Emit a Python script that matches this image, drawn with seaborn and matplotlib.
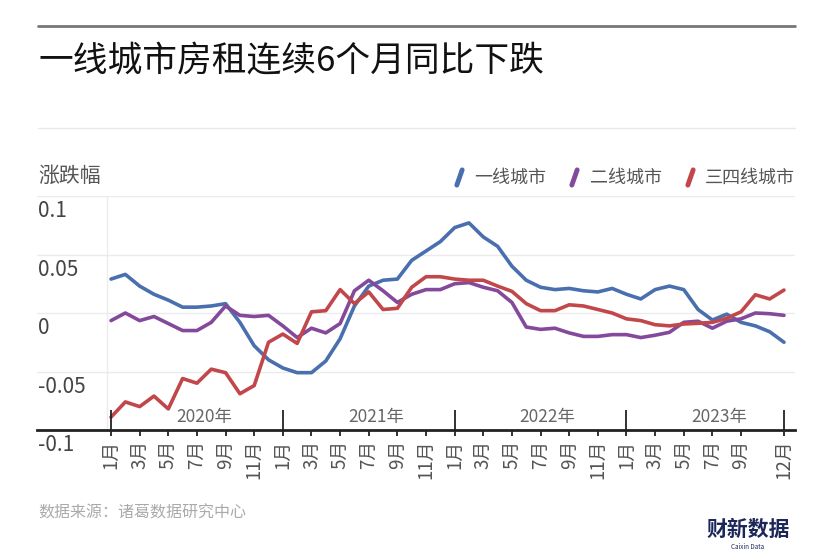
import numpy as np
import pandas as pd
import matplotlib.pyplot as plt
import matplotlib.transforms as mtransforms
import seaborn as sns
from matplotlib.lines import Line2D
from matplotlib.markers import MarkerStyle
from matplotlib.path import Path

# 数据: 2020年1月 - 2023年12月, 同比涨跌幅
years = ['2020年', '2021年', '2022年', '2023年']
series_names = ['一线城市', '二线城市', '三四线城市']
colors = ['#4a6faf', '#84499b', '#c1474a']

tier1 = [0.029, 0.033, 0.023, 0.016, 0.011, 0.005, 0.005, 0.006, 0.008, -0.008, -0.028, -0.040,
         -0.047, -0.051, -0.051, -0.041, -0.022, 0.006, 0.023, 0.028, 0.029, 0.045, 0.053, 0.061,
         0.073, 0.077, 0.065, 0.057, 0.040, 0.028, 0.022, 0.020, 0.021, 0.019, 0.018, 0.021,
         0.016, 0.012, 0.020, 0.023, 0.020, 0.003, -0.006, -0.001, -0.008, -0.011, -0.016, -0.025]
tier2 = [-0.0065, 0.0, -0.0065, -0.003, -0.009, -0.015, -0.015, -0.008, 0.006, -0.002, -0.003, -0.002,
         -0.011, -0.021, -0.013, -0.017, -0.009, 0.019, 0.028, 0.019, 0.009, 0.016, 0.020, 0.020,
         0.025, 0.026, 0.022, 0.019, 0.009, -0.012, -0.014, -0.013, -0.017, -0.020, -0.020, -0.0185,
         -0.0185, -0.021, -0.019, -0.0165, -0.008, -0.007, -0.013, -0.007, -0.005, 0.0, -0.0006, -0.002]
tier34 = [-0.089, -0.076, -0.080, -0.071, -0.082, -0.056, -0.060, -0.048, -0.051, -0.069, -0.062, -0.025,
          -0.018, -0.026, 0.001, 0.002, 0.020, 0.008, 0.018, 0.003, 0.004, 0.022, 0.031, 0.031,
          0.029, 0.028, 0.028, 0.023, 0.0185, 0.008, 0.002, 0.002, 0.007, 0.006, 0.003, 0.0,
          -0.005, -0.0065, -0.010, -0.011, -0.0094, -0.0088, -0.008, -0.0045, 0.001, 0.0156, 0.012, 0.0196]

month_labels = [f'{m}月' for m in range(1, 13)] * 4
tick_idx = list(range(0, 46, 2)) + [47]
y_ticks = [0.1, 0.05, 0, -0.05, -0.1]
y_tick_labels = ['0.1', '0.05', '0', '-0.05', '-0.1']

sns.set_theme(style='white')
plt.rcParams['font.family'] = ['Noto Sans CJK SC', 'DejaVu Sans']
plt.rcParams['axes.unicode_minus'] = False

n = len(tier1)
df = pd.DataFrame({
    'idx': np.tile(np.arange(n), 3),
    'value': tier1 + tier2 + tier34,
    'tier': np.repeat(series_names, n),
})

W, H = 840, 560
fig = plt.figure(figsize=(8.4, 5.6), dpi=100)
ax = fig.add_axes([37 / W, 130 / H, 758 / W, 234 / H])

sns.lineplot(data=df, x='idx', y='value', hue='tier', hue_order=series_names,
             palette=dict(zip(series_names, colors)), linewidth=2.6, legend=False, ax=ax)

ax.set_xlim(-5.17, 47.77)
ax.set_ylim(-0.1, 0.1)
ax.set_xlabel('')
ax.set_ylabel('')

# 网格与坐标轴
ax.set_yticks(y_ticks)
ax.yaxis.grid(True, color='#ebebeb', linewidth=1)
ax.tick_params(axis='y', length=0, labelleft=False)
ax.axvline(-0.28, color='#ededed', linewidth=1, zorder=0)
for s in ['top', 'right', 'left']:
    ax.spines[s].set_visible(False)
ax.spines['bottom'].set_linewidth(2)
ax.spines['bottom'].set_color('#222222')

ax.set_xticks(tick_idx, [month_labels[i] for i in tick_idx], rotation=90, fontsize=13.5, color='#555555')
ax.tick_params(axis='x', length=4, width=1.3, color='#222222', pad=3, bottom=True)

trans = mtransforms.blended_transform_factory(ax.transAxes, ax.transData)
for v, lab in zip(y_ticks, y_tick_labels):
    ax.annotate(lab, (0.0015, v), xycoords=trans, xytext=(0, -3), textcoords='offset points',
                ha='left', va='top', fontsize=15, color='#444444')

# 年份分隔
ax.vlines([0, 12, 24, 36, 47], -0.1, -0.083, color='#222222', linewidth=1.3)
for k, yr in enumerate(years):
    ax.text(6.5 + 12 * k, -0.0885, yr, ha='center', va='center', fontsize=12.5, color='#666666')

# 图例
slash = MarkerStyle(Path([(-0.35, -1), (0.35, 1)]), capstyle='round')
handles = [Line2D([], [], linestyle='none', marker=slash, markersize=11,
                  markeredgewidth=3.5, markeredgecolor=c) for c in colors]
ax.legend(handles, series_names, loc='center right', bbox_to_anchor=(795 / W, 1 - 178 / H),
          bbox_transform=fig.transFigure, frameon=False, ncol=3, fontsize=13,
          handlelength=0.9, handletextpad=0.4, columnspacing=1.1, labelcolor='#555555',
          borderpad=0, borderaxespad=0)

# 标题与注释
fig.add_artist(Line2D([38 / W, 795 / W], [1 - 26 / H] * 2, color='#777777', linewidth=2))
fig.add_artist(Line2D([38 / W, 795 / W], [1 - 128 / H] * 2, color='#e8e8e8', linewidth=1))
fig.text(38 / W, 1 - 62 / H, '一线城市房租连续6个月同比下跌', fontsize=25, va='center', color='#111111')
fig.text(38 / W, 1 - 176 / H, '涨跌幅', fontsize=15, va='center', color='#555555')
fig.text(38 / W, 1 - 513 / H, '数据来源：诸葛数据研究中心', fontsize=11.5, va='center', color='#aaaaaa')
fig.text(790 / W, 1 - 529 / H, '财新数据', fontsize=15, fontweight='bold', ha='right', va='center', color='#1c2659')
fig.text(748 / W, 1 - 547 / H, 'Caixin Data', fontsize=4.5, ha='center', va='center', color='#1c2659')

fig.savefig('out.png', dpi=100)
